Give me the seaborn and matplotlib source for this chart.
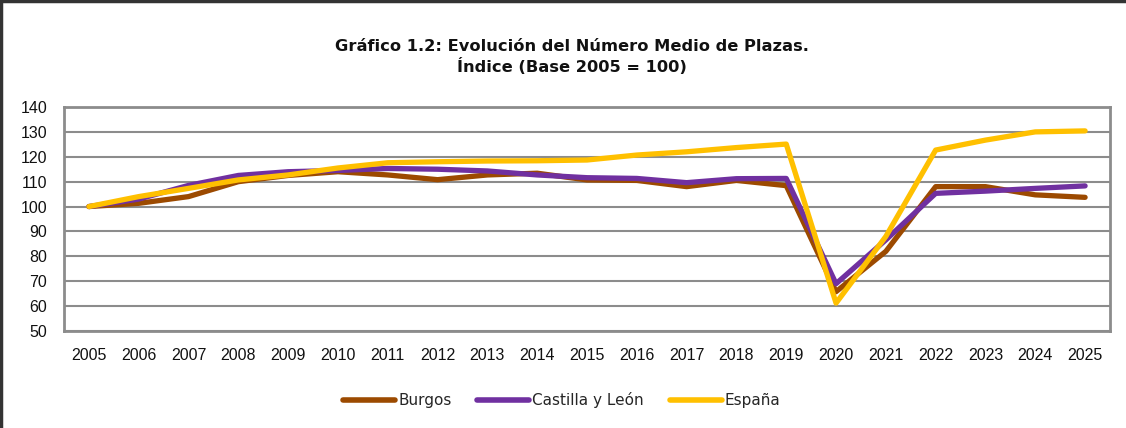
import matplotlib
matplotlib.use("Agg")
import matplotlib.pyplot as plt
import seaborn as sns
import pandas as pd
from matplotlib.lines import Line2D

years = list(range(2005, 2026))
burgos = [100, 101.3, 104, 110, 112.5, 114, 112.7, 110.8, 112.7, 113.4, 110.7, 110.5,
          108, 110.5, 108.4, 65.8, 82, 108, 108, 104.7, 103.7]
castilla = [100, 103, 108.5, 112.5, 114, 114.5, 115.3, 115, 114.3, 112.7, 111.6, 111.3,
            109.6, 111.2, 111.3, 69, 86.6, 105.3, 106.2, 107.3, 108.3]
espana = [100, 104, 107.3, 110.7, 112.7, 115.5, 117.6, 118, 118.3, 118.4, 118.7, 120.7,
          122, 123.7, 125.1, 61.2, 88, 122.7, 126.7, 130, 130.4]
series_names = ["Burgos", "Castilla y León", "España"]
colors = ["#9C4A00", "#7030A0", "#FFC000"]
title = "Gráfico 1.2: Evolución del Número Medio de Plazas.\nÍndice (Base 2005 = 100)"

df = pd.DataFrame({
    "year": years * 3,
    "value": burgos + castilla + espana,
    "serie": [series_names[0]] * len(years) + [series_names[1]] * len(years) + [series_names[2]] * len(years),
})

sns.set_theme(style="white")
plt.rcParams["font.family"] = ["DejaVu Sans"]

fig = plt.figure(figsize=(11.26, 4.28), dpi=100)
ax = fig.add_axes([64 / 1126, 1 - 331 / 428, (1110 - 64) / 1126, (331 - 107) / 428])

sns.lineplot(data=df, x="year", y="value", hue="serie", hue_order=series_names,
             palette=colors, linewidth=3.8, ax=ax, legend=False, zorder=3)

ax.set_xlim(2004.5, 2025.5)
ax.set_ylim(50, 140)
ax.set_yticks(range(50, 141, 10))
ax.set_xticks(years)
tick_font = ["Liberation Sans Narrow", "Liberation Sans", "DejaVu Sans"]
ax.set_xticklabels([str(y) for y in years], fontsize=11.5, family=tick_font, color="#111111")
ax.set_yticklabels([str(v) for v in range(50, 141, 10)], fontsize=11.5, family=tick_font, color="#111111")
ax.tick_params(axis="both", length=0)
ax.tick_params(axis="y", pad=12)
ax.tick_params(axis="x", pad=12)
ax.set_xlabel("")
ax.set_ylabel("")
ax.grid(axis="y", color="#8c8c8c", linewidth=1.5, zorder=0)
for s in ax.spines.values():
    s.set_visible(True)
    s.set_color("#8c8c8c")
    s.set_linewidth(2)

fig.text(0.508, 0.866, title, ha="center", va="center", fontsize=11.7,
         fontweight="bold", linespacing=1.3, color="#111111")

handles = [Line2D([0], [0], color=c, linewidth=4, solid_capstyle="round") for c in colors]
fig.legend(handles, series_names, loc="center", bbox_to_anchor=(0.499, 0.065), ncol=3,
           frameon=False, fontsize=11, handlelength=3.4, handletextpad=0.2, columnspacing=1.7)

fig.add_artist(Line2D([0.001, 0.001], [0, 0.997], transform=fig.transFigure, color="#333333", linewidth=2.5))
fig.add_artist(Line2D([0.0, 1.0], [0.997, 0.997], transform=fig.transFigure, color="#333333", linewidth=2.5))

fig.savefig("out.png", dpi=100)
